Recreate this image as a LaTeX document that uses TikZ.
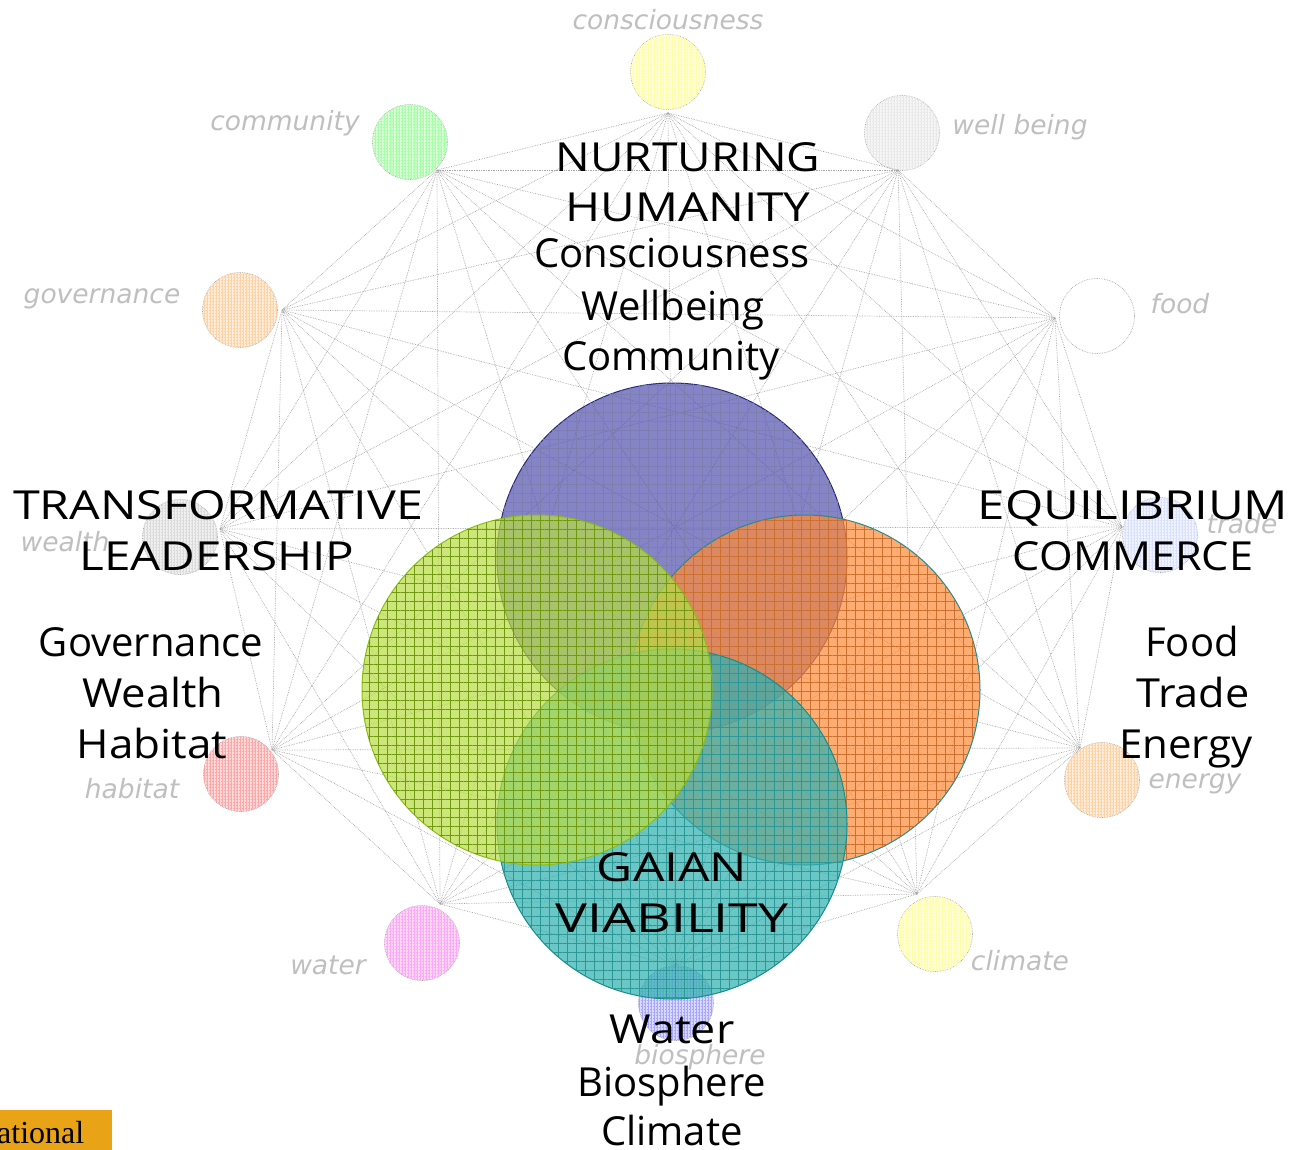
\documentclass[tikz,border=0pt]{standalone}
\usepackage{fontspec}
\usepackage{graphicx}
\setmainfont{Open Sans}
\newfontfamily\labfont{DejaVu Sans}
\newfontfamily\boxfont{Liberation Serif}
\usetikzlibrary{patterns.meta}
\definecolor{blueC}{RGB}{84,84,176}
\definecolor{blueE}{RGB}{40,40,120}
\definecolor{greenC}{RGB}{184,220,70}
\definecolor{greenE}{RGB}{140,190,20}
\definecolor{orangeC}{RGB}{255,140,60}
\definecolor{orangeE}{RGB}{30,140,150}
\definecolor{tealC}{RGB}{50,176,176}
\definecolor{tealE}{RGB}{20,140,140}
\definecolor{goldC}{RGB}{232,163,23}
\definecolor{tradeC}{RGB}{150,170,255}
\definecolor{greyA}{RGB}{190,190,190}
\definecolor{greyB}{RGB}{150,150,150}
\begin{document}
\begin{tikzpicture}[x=1pt,y=-1pt,
  web/.style={draw=gray!70, densely dotted, line width=0.7pt},
  smallc/.style={circle, minimum size=75pt, inner sep=0pt, draw=gray!70, densely dotted, line width=0.7pt,
    fill=#1!15, postaction={pattern={Hatch[angle=0,distance=3pt,line width=0.3pt]}, pattern color=#1!35}},
  plainc/.style={circle, minimum size=75pt, inner sep=0pt, draw=gray!70, densely dotted, line width=0.7pt, fill=white},
  lab/.style={font=\labfont\itshape\fontsize{26.5}{30}\selectfont, text=gray!50, inner sep=0pt},
  bigc/.style={circle, minimum size=350pt, inner sep=0pt, line width=1pt, fill opacity=0.72,
    postaction={pattern={Hatch[angle=0,distance=9pt,line width=0.35pt]}}},
  txt/.style={font=\fontsize{40}{51}\selectfont, anchor=base, inner sep=0pt}
]
\useasboundingbox (0,0) rectangle (1293,1150);

% small circles
\node[smallc=yellow] (cCon) at (668,72) {};
\node[smallc=greyA] (cWel) at (902,133) {};
\node[plainc] (cFoo) at (1097,316) {};
\node[smallc=tradeC] (cTra) at (1160,535) {};
\node[smallc=orange] (cEne) at (1102,780) {};
\node[smallc=yellow] (cCli) at (935,934) {};
\node[smallc=blue] (cBio) at (676,1003) {};
\node[smallc=magenta] (cWat) at (422,943) {};
\node[smallc=red] (cHab) at (241,774) {};
\node[smallc=greyB] (cWea) at (180,537) {};
\node[smallc=orange] (cGov) at (240,310) {};
\node[smallc=green] (cCom) at (410,142) {};

% hubs
\coordinate (h1) at (668,113);
\coordinate (h2) at (898,170);
\coordinate (h3) at (1055,318);
\coordinate (h4) at (1122,527);
\coordinate (h5) at (1080,748);
\coordinate (h6) at (917,894);
\coordinate (h7) at (675,966);
\coordinate (h8) at (440,904);
\coordinate (h9) at (272,750);
\coordinate (h10) at (220,529);
\coordinate (h11) at (282,310);
\coordinate (h12) at (437,170);
\foreach \i [evaluate=\i as \k using int(\i+1)] in {1,...,11}{
  \foreach \j in {\k,...,12}{ \draw[web] (h\i) -- (h\j); }
}

% small labels
\node[lab] (lCon) at (668,20) {consciousness};
\node[lab] (lWel) at (1020,127) {well being};
\node[lab] (lFoo) at (1180,304) {food};
\node[lab] (lTra) at (1242,524) {trade};
\node[lab] (lEne) at (1195,784) {energy};
\node[lab] (lCli) at (1020,961) {climate};
\node[lab] (lBio) at (700,1057) {biosphere};
\node[lab] (lWat) at (328,965) {water};
\node[lab] (lHab) at (132,789) {habitat};
\node[lab] (lWea) at (65,542) {wealth};
\node[lab] (lGov) at (102,299) {governance};
\node[lab] (lCom) at (285,123) {community};

% big circles
\node[bigc, fill=blueC, draw=blueE, pattern color=blueE!60] (bN) at (672,558) {};
\node[bigc, fill=orangeC, draw=orangeE, pattern color=orangeC!80!black] (bE) at (805,690) {};
\node[bigc, fill=tealC, draw=tealE, pattern color=tealE!90] (bG) at (672,824) {};
\node[bigc, fill=greenC, draw=greenE, pattern color=greenE!80!black] (bT) at (537,690) {};

% texts
\node[txt] (t1) at (688,172) {\scalebox{1.15}[1]{NURTURING}};
\node[txt] (t2) at (688,222) {\scalebox{1.19}[1]{HUMANITY}};
\node[txt] (t3) at (672,268) {Consciousness};
\node[txt] (t4) at (673,320) {Wellbeing};
\node[txt] (t5) at (671,370) {Community};

\node[txt] (t6) at (218,519) {\scalebox{1.21}[1]{TRANSFORMATIVE}};
\node[txt] (t7) at (217,570) {\scalebox{1.19}[1]{LEADERSHIP}};
\node[txt] (t8) at (151,656) {Governance};
\node[txt] (t9) at (153,707) {\scalebox{1.09}[1]{Wealth}};
\node[txt] (t10) at (152,758) {\scalebox{1.1}[1]{Habitat}};

\node[txt] (t11) at (1133,519) {\scalebox{1.23}[1]{EQUILIBRIUM}};
\node[txt] (t12) at (1133,570) {\scalebox{1.08}[1]{COMMERCE}};
\node[txt] (t13) at (1192,656) {Food};
\node[txt] (t14) at (1193,707) {\scalebox{1.08}[1]{Trade}};
\node[txt] (t15) at (1186,758) {\scalebox{1.05}[1]{Energy}};

\node[txt] (t16) at (672,881) {\scalebox{1.24}[1]{GAIAN}};
\node[txt] (t17) at (672,932) {\scalebox{1.34}[1]{VIABILITY}};
\node[txt] (t18) at (672,1043) {\scalebox{1.12}[1]{Water}};
\node[txt] (t19) at (672,1096) {Biosphere};
\node[txt] (t20) at (672,1145) {Climate};

% corner box
\fill[goldC] (0,1110) rectangle (112,1150);
\node[font=\boxfont\fontsize{32}{34}\selectfont, anchor=base west, inner sep=0pt] (bx) at (-3,1143) {ational};
\end{tikzpicture}
\end{document}
